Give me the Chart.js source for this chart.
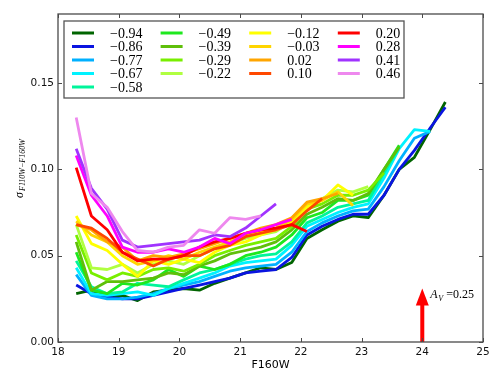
<!DOCTYPE html>
<html>
<head>
<meta charset="utf-8">
<script src="https://cdn.jsdelivr.net/npm/chart.js@4/dist/chart.umd.min.js"></script>
<style>
  html, body { margin: 0; padding: 0; background: #fff; }
  canvas { display: block; }
</style>
</head>
<body>
<canvas id="sigma" width="502" height="381"></canvas>
<script>
// magnitude bins (F160W)
const mags = [18.30, 18.55, 18.81, 19.06, 19.31, 19.57, 19.82, 20.07, 20.33, 20.58,
  20.83, 21.09, 21.34, 21.59, 21.85, 22.10, 22.35, 22.61, 22.86, 23.11,
  23.37, 23.62, 23.87, 24.13, 24.38];

const labels = ['−0.94', '−0.86', '−0.77', '−0.67', '−0.58', '−0.49', '−0.39', '−0.29',
  '−0.22', '−0.12', '−0.03', '0.02', '0.10', '0.20', '0.28', '0.41', '0.46'];

const colors = ['#006400', '#0a14e0', '#00b0ff', '#00f2ff', '#00f59a', '#1ee81e', '#5fbf0a',
  '#78ee00', '#b0ff40', '#ffff00', '#ffd500', '#ffa500', '#ff4800', '#ff0000', '#ff00ff',
  '#a033ff', '#ee88ee'];

// sigma(F110W - F160W) per bin, one list per series
const s094 = [0.028, 0.030, 0.026, 0.027, 0.024, 0.029, 0.030, 0.031, 0.030, 0.034, 0.037, 0.040, 0.043, 0.042, 0.046, 0.060, 0.065, 0.070, 0.073, 0.072, 0.085, 0.100, 0.107, 0.123, 0.139];
const s086 = [0.033, 0.028, 0.026, 0.025, 0.025, 0.027, 0.029, 0.031, 0.033, 0.035, 0.037, 0.040, 0.041, 0.042, 0.049, 0.062, 0.067, 0.071, 0.074, 0.074, 0.085, 0.100, 0.111, 0.124, 0.136];
const s077 = [0.039, 0.027, 0.025, 0.025, 0.026, 0.028, 0.031, 0.033, 0.035, 0.038, 0.041, 0.043, 0.044, 0.045, 0.052, 0.064, 0.069, 0.073, 0.076, 0.077, 0.090, 0.105, 0.118, 0.122];
const s067 = [0.043, 0.028, 0.027, 0.028, 0.029, 0.027, 0.031, 0.034, 0.037, 0.040, 0.044, 0.046, 0.047, 0.048, 0.056, 0.067, 0.071, 0.075, 0.078, 0.080, 0.095, 0.112, 0.123, 0.122];
const s058 = [0.047, 0.032, 0.028, 0.029, 0.034, 0.033, 0.032, 0.036, 0.040, 0.042, 0.045, 0.048, 0.050, 0.051, 0.058, 0.069, 0.073, 0.078, 0.080, 0.082, 0.098, 0.113];
const s049 = [0.052, 0.030, 0.028, 0.034, 0.033, 0.036, 0.042, 0.038, 0.044, 0.042, 0.045, 0.050, 0.052, 0.055, 0.062, 0.072, 0.075, 0.082, 0.082, 0.085, 0.100, 0.114];
const s039 = [0.058, 0.030, 0.035, 0.035, 0.036, 0.037, 0.040, 0.039, 0.044, 0.047, 0.051, 0.053, 0.055, 0.058, 0.065, 0.074, 0.078, 0.083, 0.082, 0.086, 0.100, 0.113];
const s029 = [0.062, 0.040, 0.036, 0.040, 0.038, 0.042, 0.043, 0.041, 0.045, 0.050, 0.053, 0.056, 0.058, 0.060, 0.067, 0.077, 0.080, 0.085, 0.085, 0.088, 0.098];
const s022 = [0.068, 0.043, 0.042, 0.045, 0.040, 0.045, 0.047, 0.045, 0.050, 0.054, 0.057, 0.060, 0.062, 0.064, 0.070, 0.079, 0.083, 0.088, 0.087, 0.090];
const s012 = [0.073, 0.057, 0.053, 0.045, 0.038, 0.047, 0.045, 0.048, 0.046, 0.052, 0.056, 0.058, 0.062, 0.065, 0.069, 0.078, 0.082, 0.091, 0.085];
const s003 = [0.070, 0.062, 0.058, 0.050, 0.045, 0.047, 0.050, 0.048, 0.052, 0.055, 0.058, 0.062, 0.064, 0.066, 0.071, 0.080, 0.082, 0.087, 0.079];
const s002 = [0.068, 0.065, 0.058, 0.055, 0.047, 0.050, 0.049, 0.051, 0.054, 0.057, 0.060, 0.063, 0.066, 0.068, 0.072, 0.081, 0.083, 0.086];
const s010 = [0.068, 0.066, 0.060, 0.052, 0.048, 0.044, 0.048, 0.050, 0.050, 0.054, 0.056, 0.061, 0.063, 0.065, 0.068, 0.076, 0.083];
const s020 = [0.101, 0.073, 0.065, 0.052, 0.047, 0.048, 0.048, 0.050, 0.055, 0.058, 0.060, 0.063, 0.065, 0.066, 0.068, 0.064];
const s028 = [0.108, 0.085, 0.073, 0.055, 0.052, 0.052, 0.054, 0.052, 0.055, 0.060, 0.057, 0.063, 0.065, 0.068, 0.071];
const s041 = [0.112, 0.089, 0.077, 0.059, 0.055, 0.056, 0.057, 0.058, 0.059, 0.062, 0.061, 0.066, 0.073, 0.080];
const s046 = [0.130, 0.086, 0.078, 0.064, 0.053, 0.052, 0.055, 0.056, 0.065, 0.063, 0.072, 0.071, 0.073];

const series = [s094, s086, s077, s067, s058, s049, s039, s029, s022, s012, s003, s002, s010, s020, s028, s041, s046];

const xTicks = [18, 19, 20, 21, 22, 23, 24, 25];
const yTicks = [0.00, 0.05, 0.10, 0.15];

// reddening arrow annotation
const arrowX = 24;
const arrowTip = 0.031;
const arrowText = '=0.25';

const frameColor = '#4a4a4a';

const decor = {
  id: 'decor',
  afterDatasetsDraw(chart) {
    const { ctx, chartArea: a, scales: { x, y } } = chart;
    ctx.save();

    // arrow
    const ax = x.getPixelForValue(arrowX);
    const tip = y.getPixelForValue(arrowTip);
    ctx.fillStyle = '#ff0000';
    ctx.fillRect(ax - 2, tip + 16, 4, a.bottom - tip - 16);
    ctx.beginPath();
    ctx.moveTo(ax, tip);
    ctx.lineTo(ax - 6.5, tip + 17);
    ctx.lineTo(ax + 6.5, tip + 17);
    ctx.closePath();
    ctx.fill();
    ctx.fillStyle = '#000';
    ctx.textBaseline = 'alphabetic';
    ctx.textAlign = 'left';
    ctx.font = 'italic 12px "Liberation Serif"';
    ctx.fillText('A', ax + 8, tip + 10);
    ctx.font = 'italic 8px "Liberation Serif"';
    ctx.fillText('V', ax + 16, tip + 13);
    ctx.font = '12px "Liberation Serif"';
    ctx.fillText(arrowText, ax + 24, tip + 10);

    // frame + inward ticks
    ctx.strokeStyle = frameColor;
    ctx.lineWidth = 1.3;
    ctx.strokeRect(a.left, a.top, a.right - a.left, a.bottom - a.top);
    ctx.lineWidth = 1;
    ctx.beginPath();
    xTicks.forEach(v => {
      const px = Math.round(x.getPixelForValue(v)) + 0.5;
      ctx.moveTo(px, a.bottom); ctx.lineTo(px, a.bottom - 4);
      ctx.moveTo(px, a.top); ctx.lineTo(px, a.top + 4);
    });
    yTicks.forEach(v => {
      const py = Math.round(y.getPixelForValue(v)) + 0.5;
      ctx.moveTo(a.left, py); ctx.lineTo(a.left + 4, py);
      ctx.moveTo(a.right, py); ctx.lineTo(a.right - 4, py);
    });
    ctx.stroke();

    // legend (column-major, 5 rows in first column)
    const bx = a.left + 6, by = a.top + 7, bw = 340, bh = 77;
    ctx.fillStyle = '#fff';
    ctx.fillRect(bx, by, bw, bh);
    ctx.strokeStyle = '#555';
    ctx.lineWidth = 1.3;
    ctx.strokeRect(bx, by, bw, bh);
    ctx.font = '14px "Liberation Serif"';
    ctx.textBaseline = 'middle';
    const counts = [5, 4, 4, 4];
    let idx = 0;
    counts.forEach((n, c) => {
      for (let r = 0; r < n; r++, idx++) {
        const lx = bx + 8 + c * 88.6;
        const ly = by + 12 + r * 13.5;
        ctx.strokeStyle = colors[idx];
        ctx.lineWidth = 3;
        ctx.beginPath();
        ctx.moveTo(lx, ly); ctx.lineTo(lx + 22, ly);
        ctx.stroke();
        ctx.fillStyle = '#000';
        ctx.fillText(labels[idx], lx + 38, ly + 1);
      }
    });

    // axis titles
    ctx.fillStyle = '#000';
    ctx.font = '11px "DejaVu Sans"';
    ctx.textAlign = 'center';
    ctx.textBaseline = 'middle';
    ctx.fillText('F160W', (a.left + a.right) / 2, 365);
    ctx.translate(20, 172);
    ctx.rotate(-Math.PI / 2);
    ctx.textAlign = 'left';
    ctx.textBaseline = 'alphabetic';
    ctx.font = 'italic 12px "Liberation Serif"';
    ctx.fillText('σ', -26, 3);
    ctx.font = 'italic 8px "Liberation Serif"';
    ctx.fillText('F110W−F160W', -19, 5);
    ctx.restore();
  }
};

new Chart(document.getElementById('sigma'), {
  type: 'line',
  data: {
    datasets: series.map((vals, i) => ({
      label: labels[i],
      data: vals.map((v, k) => ({ x: mags[k], y: v })),
      borderColor: colors[i],
      borderWidth: 2.8,
      pointRadius: 0,
      fill: false,
      tension: 0,
      borderJoinStyle: 'round',
      order: series.length - i
    }))
  },
  options: {
    responsive: false,
    animation: false,
    layout: { padding: { top: 14, right: 19, left: 0, bottom: 0 } },
    plugins: { legend: { display: false }, tooltip: { enabled: false } },
    scales: {
      x: {
        type: 'linear', min: 18, max: 25,
        afterBuildTicks: s => { s.ticks = xTicks.map(v => ({ value: v })); },
        afterFit: s => { s.height = 39; },
        grid: { display: false, drawTicks: false },
        border: { display: false },
        ticks: { padding: 4, color: '#111', font: { family: 'DejaVu Sans', size: 10.5 },
          callback: v => String(v) }
      },
      y: {
        min: 0, max: 0.19,
        afterBuildTicks: s => { s.ticks = yTicks.map(v => ({ value: v })); },
        afterFit: s => { s.width = 58; },
        grid: { display: false, drawTicks: false },
        border: { display: false },
        ticks: { padding: 4, color: '#111', font: { family: 'DejaVu Sans', size: 10.5 },
          callback: v => v.toFixed(2) }
      }
    }
  },
  plugins: [decor]
});
</script>
</body>
</html>
